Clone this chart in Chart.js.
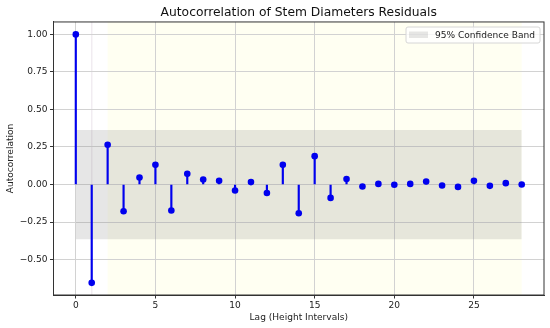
<!DOCTYPE html>
<html lang="en">
<head>
    <meta charset="UTF-8">
    <title>Autocorrelation of Stem Diameters Residuals</title>
    <script src="https://cdn.jsdelivr.net/npm/chart.js"></script>
    <style>
        body { margin: 0; background: #fff; }
        #wrap { width: 550px; height: 328px; }
    </style>
</head>
<body>
    <div id="wrap"><canvas id="acfChart" width="550" height="328"></canvas></div>

    <script>
        // lags and autocorrelation values
        const lags = [0, 1, 2, 3, 4, 5, 6, 7, 8, 9, 10, 11, 12, 13, 14, 15, 16, 17, 18, 19, 20, 21, 22, 23, 24, 25, 26, 27, 28];
        const acfValues = [1.0, -0.655, 0.265, -0.178, 0.047, 0.131, -0.173, 0.071, 0.033, 0.025, -0.04, 0.016, -0.056, 0.131, -0.191, 0.189, -0.089, 0.036, -0.013, 0.004, -0.002, 0.004, 0.02, -0.007, -0.016, 0.025, -0.009, 0.009, 0.0];
        const confLimit = 0.364;      // 95% band, +/-
        const bandLags = [0, 28];
        const highlightLags = [2, 28]; // pale yellow span
        const markerLag = 1;           // faint vertical line
        const xTicks = [0, 5, 10, 15, 20, 25];
        const yTicks = [-0.5, -0.25, 0, 0.25, 0.5, 0.75, 1.0];

        const FONT = "'DejaVu Sans', sans-serif";
        const SMALL = 9.05;
        const points = lags.map((l, i) => ({ x: l, y: acfValues[i] }));

        const backdrop = {
            id: 'backdrop',
            beforeDraw(chart) {
                const { ctx, chartArea: a, scales: { x } } = chart;
                ctx.save();
                ctx.fillStyle = '#fffff2';
                const x0 = x.getPixelForValue(highlightLags[0]);
                const x1 = x.getPixelForValue(highlightLags[1]);
                ctx.fillRect(x0, a.top, x1 - x0, a.bottom - a.top);
                ctx.strokeStyle = '#f1ecf1';
                ctx.lineWidth = 1.5;
                const xm = x.getPixelForValue(markerLag);
                ctx.beginPath();
                ctx.moveTo(xm, a.top);
                ctx.lineTo(xm, a.bottom);
                ctx.stroke();
                ctx.restore();
            },
            afterDraw(chart) {
                const { ctx, chartArea: a } = chart;
                ctx.save();
                // frame
                ctx.strokeStyle = '#333';
                ctx.lineWidth = 1;
                ctx.strokeRect(a.left, a.top, a.right - a.left, a.bottom - a.top);
                // legend
                const lx = 406, ly = 27, lw = 134, lh = 16;
                ctx.fillStyle = 'rgba(255,255,255,0.8)';
                ctx.strokeStyle = '#d6d6d6';
                ctx.beginPath();
                ctx.roundRect(lx, ly, lw, lh, 2);
                ctx.fill();
                ctx.stroke();
                ctx.fillStyle = 'rgba(128,128,128,0.2)';
                ctx.fillRect(lx + 3, ly + 4.5, 19, 6.5);
                ctx.fillStyle = '#222';
                ctx.font = SMALL + 'px ' + FONT;
                ctx.textBaseline = 'middle';
                ctx.fillText('95% Confidence Band', lx + 29, ly + lh / 2 + 0.5);
                ctx.restore();
            }
        };

        const ctx = document.getElementById('acfChart').getContext('2d');
        const acfChart = new Chart(ctx, {
            type: 'scatter',
            data: {
                datasets: [
                    {
                        label: 'upper',
                        type: 'line',
                        data: bandLags.map(l => ({ x: l, y: confLimit })),
                        borderWidth: 0,
                        pointRadius: 0,
                        fill: '+1',
                        backgroundColor: 'rgba(128,128,128,0.2)',
                        order: 3
                    },
                    {
                        label: 'lower',
                        type: 'line',
                        data: bandLags.map(l => ({ x: l, y: -confLimit })),
                        borderWidth: 0,
                        pointRadius: 0,
                        fill: false,
                        order: 3
                    },
                    {
                        label: 'stems',
                        type: 'bar',
                        data: points,
                        backgroundColor: '#0000ee',
                        barThickness: 1.5,
                        order: 2
                    },
                    {
                        label: 'ACF',
                        type: 'scatter',
                        data: points,
                        pointRadius: 3.3,
                        pointHoverRadius: 3.3,
                        backgroundColor: '#0000ee',
                        borderWidth: 0,
                        order: 1
                    }
                ]
            },
            options: {
                responsive: false,
                animation: false,
                layout: { padding: { left: 0, right: 6, top: 0, bottom: 0 } },
                scales: {
                    x: {
                        type: 'linear',
                        min: -1.4,
                        max: 29.4,
                        offset: false,
                        afterBuildTicks: s => { s.ticks = xTicks.map(v => ({ value: v })); },
                        afterFit: s => { s.height = 33; },
                        grid: { color: '#d2d2d2', tickColor: '#333', tickLength: 3.5, offset: false },
                        border: { color: '#333' },
                        ticks: { font: { family: FONT, size: SMALL }, color: '#222', padding: 2, maxRotation: 0 },
                        title: { display: true, text: 'Lag (Height Intervals)', font: { family: FONT, size: SMALL }, color: '#222', padding: { top: 0, bottom: 4.5 } }
                    },
                    y: {
                        min: -0.736,
                        max: 1.083,
                        afterBuildTicks: s => { s.ticks = yTicks.map(v => ({ value: v })); },
                        afterFit: s => { s.width = 53.5; },
                        grid: { color: '#d2d2d2', tickColor: '#333', tickLength: 3.5 },
                        border: { color: '#333' },
                        ticks: {
                            font: { family: FONT, size: SMALL },
                            color: '#222',
                            padding: 2.5,
                            callback: v => (v < 0 ? '\u2212' : '') + Math.abs(v).toFixed(2)
                        },
                        title: { display: true, text: 'Autocorrelation', font: { family: FONT, size: SMALL }, color: '#222', padding: { top: 5.5, bottom: 0 } }
                    }
                },
                plugins: {
                    legend: { display: false },
                    tooltip: { enabled: false },
                    title: {
                        display: true,
                        fullSize: false,
                        text: 'Autocorrelation of Stem Diameters Residuals',
                        font: { family: FONT, size: 12.3, weight: 'normal' },
                        color: '#111',
                        padding: { top: 5, bottom: 2.2 }
                    }
                }
            },
            plugins: [backdrop]
        });
    </script>
</body>
</html>
